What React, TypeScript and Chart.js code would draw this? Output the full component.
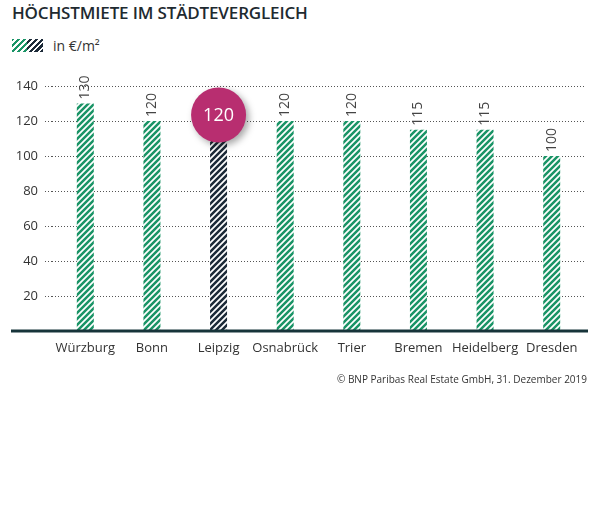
import React, { useEffect, useRef } from "react";
import { Chart, registerables } from "chart.js";

Chart.register(...registerables);

const categories = ["Würzburg", "Bonn", "Leipzig", "Osnabrück", "Trier", "Bremen", "Heidelberg", "Dresden"];
const values = [130, 120, 120, 120, 120, 115, 115, 100];
const highlightIndex = 2;
const yTicks = [20, 40, 60, 80, 100, 120, 140];
const title = "HÖCHSTMIETE IM STÄDTEVERGLEICH";
const legendLabel = "in €/m²";
const source = "© BNP Paribas Real Estate GmbH, 31. Dezember 2019";

const GREEN = "#1a9466";
const DARK = "#1c2a38";
const MAGENTA = "#b82e70";
const FONT = "'Open Sans', sans-serif";

function makePattern(ctx: CanvasRenderingContext2D, color: string) {
  const s = 6;
  const c = document.createElement("canvas");
  c.width = s;
  c.height = s;
  const g = c.getContext("2d")!;
  g.fillStyle = "#ffffff";
  g.fillRect(0, 0, s, s);
  g.strokeStyle = color;
  g.lineWidth = 2.5;
  g.beginPath();
  g.moveTo(0, s);
  g.lineTo(s, 0);
  g.moveTo(-s / 2, s / 2);
  g.lineTo(s / 2, -s / 2);
  g.moveTo(s / 2, s + s / 2);
  g.lineTo(s + s / 2, s / 2);
  g.stroke();
  return ctx.createPattern(c, "repeat")!;
}

export default function App() {
  const ref = useRef<HTMLCanvasElement>(null);

  useEffect(() => {
    document.body.style.margin = "0";
    const canvas = ref.current!;
    const ctx = canvas.getContext("2d")!;
    const green = makePattern(ctx, GREEN);
    const dark = makePattern(ctx, DARK);

    const overlay = {
      id: "overlay",
      afterDatasetsDraw(chart: any) {
        const c = chart.ctx;
        const meta = chart.getDatasetMeta(0);
        const y = chart.scales.y;
        c.save();
        c.strokeStyle = "#17343a";
        c.lineWidth = 3;
        c.beginPath();
        c.moveTo(11, y.getPixelForValue(0));
        c.lineTo(588, y.getPixelForValue(0));
        c.stroke();
        c.restore();
        meta.data.forEach((bar: any, i: number) => {
          if (i === highlightIndex) {
            const cx = bar.x;
            const cy = y.getPixelForValue(values[i]) - 6;
            c.save();
            c.shadowColor = "rgba(0,0,0,0.35)";
            c.shadowBlur = 7;
            c.shadowOffsetX = 3;
            c.shadowOffsetY = 3;
            c.fillStyle = MAGENTA;
            c.beginPath();
            c.arc(cx, cy, 27.5, 0, Math.PI * 2);
            c.fill();
            c.restore();
            c.save();
            c.fillStyle = "#ffffff";
            c.font = `500 18px ${FONT}`;
            c.textAlign = "center";
            c.textBaseline = "middle";
            c.fillText(String(values[i]), cx, cy + 1);
            c.restore();
          } else {
            c.save();
            c.translate(bar.x, bar.y - 4);
            c.rotate(-Math.PI / 2);
            c.fillStyle = "#444";
            c.font = `14px ${FONT}`;
            c.textAlign = "left";
            c.textBaseline = "middle";
            c.fillText(String(values[i]), 0, 0);
            c.restore();
          }
        });
      },
    };

    const chart = new Chart(canvas, {
      type: "bar",
      data: {
        labels: categories,
        datasets: [
          {
            data: values,
            backgroundColor: values.map((_, i) => (i === highlightIndex ? dark : green)),
            borderWidth: 0,
            categoryPercentage: 1,
            barPercentage: 0.255,
          },
        ],
      },
      options: {
        animation: false,
        responsive: false,
        devicePixelRatio: 1,
        layout: { padding: { top: 86, right: 15, left: 0, bottom: 0 } },
        plugins: { legend: { display: false }, tooltip: { enabled: false }, title: { display: false } },
        scales: {
          x: {
            grid: { display: false, drawTicks: false },
            border: { display: false },
            ticks: { color: "#333", font: { family: FONT, size: 13 }, padding: 9, maxRotation: 0, autoSkip: false },
            afterFit(scale: any) {
              scale.height = 518 - 331;
            },
          },
          y: {
            min: 0,
            max: 140,
            afterBuildTicks(scale: any) {
              scale.ticks = yTicks.map((v) => ({ value: v }));
            },
            grid: {
              color: "#555",
              lineWidth: 1,
              tickLength: 7,
              tickColor: "#555",
              tickBorderDash: [1, 2],
            },
            border: { display: false, dash: [1, 2] },
            ticks: { color: "#333", font: { family: FONT, size: 13 }, padding: 7 },
            afterFit(scale: any) {
              scale.width = 52;
            },
          },
        },
      },
      plugins: [overlay],
    } as any);
    (chart.options.scales as any).y.grid.borderDash = [1, 2];
    (chart.options.scales as any).y.border.dash = [1, 2];
    chart.update();

    return () => chart.destroy();
  }, []);

  return (
    <div style={{ position: "relative", width: 600, height: 518, background: "#fff", fontFamily: FONT }}>
      <div
        style={{
          position: "absolute",
          left: 12,
          top: 1,
          fontSize: 17,
          fontWeight: 600,
          color: "#1e2a30",
          letterSpacing: -0.15,
          whiteSpace: "nowrap",
        }}
      >
        {title}
      </div>
      <div style={{ position: "absolute", left: 12, top: 36, display: "flex", alignItems: "center" }}>
        <div
          style={{
            width: 31,
            height: 13,
            background: `repeating-linear-gradient(-45deg, ${GREEN} 0 2.2px, #fff 2.2px 4.2px)`,
            position: "relative",
          }}
        >
          <div
            style={{
              position: "absolute",
              left: 15,
              top: 0,
              width: 16,
              height: 13,
              background: `repeating-linear-gradient(-45deg, ${DARK} 0 2.2px, #fff 2.2px 4.2px)`,
            }}
          />
        </div>
        <span style={{ marginLeft: 10, fontSize: 14, color: "#333" }}>{legendLabel}</span>
      </div>
      <canvas ref={ref} width={600} height={518} style={{ position: "absolute", left: 0, top: 0 }} />
      <div
        style={{
          position: "absolute",
          right: 13,
          top: 372,
          fontSize: 10,
          color: "#333",
          whiteSpace: "nowrap",
        }}
      >
        {source}
      </div>
    </div>
  );
}
